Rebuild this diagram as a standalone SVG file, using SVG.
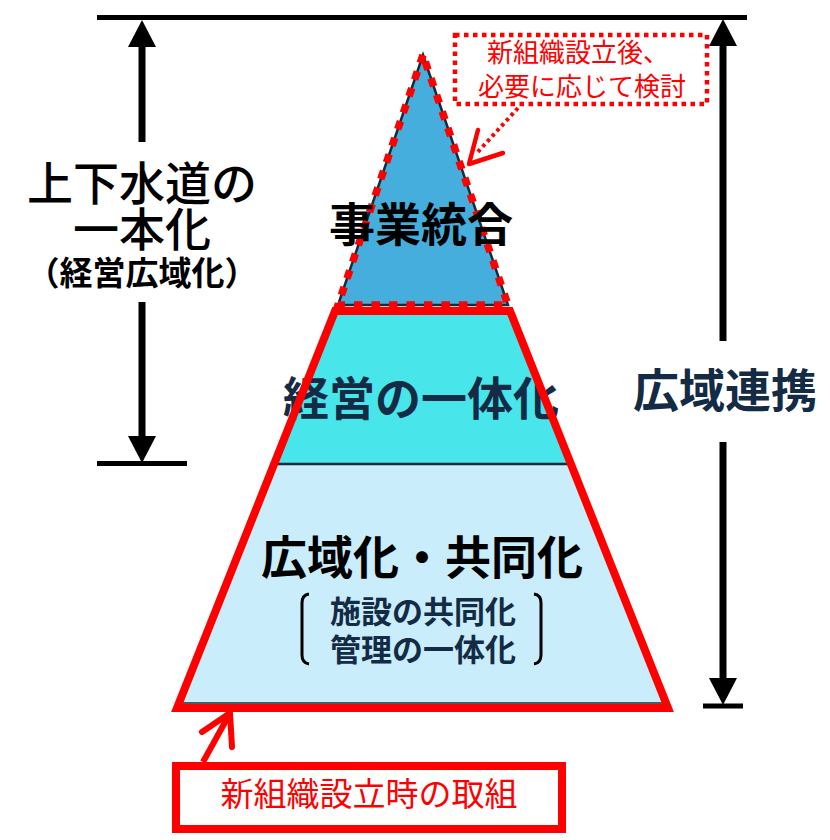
<svg xmlns="http://www.w3.org/2000/svg" width="830" height="840" viewBox="0 0 830 840">
<style>
text{font-family:"Noto Sans CJK JP","Noto Sans",sans-serif;text-anchor:middle}
.big{font-size:46px;font-weight:bold}
.navy{fill:#132b44}
.blk{fill:#000}
.red{fill:#ff0000}
.dim{stroke:#000;stroke-width:7;fill:none}
.bar{stroke:#000;stroke-width:5;fill:none}
.rl{stroke:#ff0000;fill:none}
</style>
<rect width="830" height="840" fill="#fff"/>

<g id="pyramid">
<g id="node-jigyo">
<polygon points="423,55 338,305 508,305" fill="#46aedd" stroke="#1b2a38" stroke-width="2.5"/>
<polygon points="423,55 338,305 508,305" class="rl" stroke-width="7.5" stroke-dasharray="8.5 9" stroke-linejoin="miter"/>
<text class="big blk" x="421" y="241">事業統合</text>
</g>
<g id="node-keiei">
<polygon points="335,311 510,311 571,464 274,464" fill="#48e5ea"/>
<text class="big navy" x="421" y="415">経営の一体化</text>
</g>
<g id="node-kouiki">
<polygon points="274,464 571,464 668,708 177,708" fill="#c9edfb"/>
<line x1="183" y1="703" x2="662" y2="703" stroke="#1b2a38" stroke-width="1.5"/>
<line x1="274" y1="464" x2="571" y2="464" stroke="#1b2a38" stroke-width="2.5"/>
<text class="big blk" x="422" y="574">広域化・共同化</text>
<text class="navy" x="423" y="623" font-size="31" font-weight="bold">施設の共同化</text>
<text class="navy" x="423" y="661" font-size="31" font-weight="bold">管理の一体化</text>
<path d="M309,594 Q302,595 302,603 L302,655 Q302,663 309,664" fill="none" stroke="#000" stroke-width="3"/>
<path d="M534,594 Q541,595 541,603 L541,655 Q541,663 534,664" fill="none" stroke="#000" stroke-width="3"/>
</g>
<polygon points="335,311 510,311 668,708 177,708" class="rl" stroke-width="8" stroke-linejoin="miter" stroke-miterlimit="10"/>
</g>

<g id="node-callout">
<rect x="455" y="35" width="252" height="69" class="rl" stroke-width="4.5" stroke-dasharray="4.5 4.5"/>
<text class="red" x="578" y="62" font-size="26">新組織設立後、</text>
<text class="red" x="582" y="96" font-size="26">必要に応じて検討</text>
</g>

<g id="node-shinsoshiki">
<rect x="176" y="766" width="386" height="63" class="rl" stroke-width="8"/>
<text class="red" x="369" y="806" font-size="33">新組織設立時の取組</text>
</g>

<g id="node-left-label">
<text class="blk" x="142" y="200" font-size="46" font-weight="500">上下水道の</text>
<text class="blk" x="142" y="246" font-size="46" font-weight="500">一本化</text>
<text class="blk" x="142" y="285" font-size="33" font-weight="bold">（経営広域化）</text>
</g>

<g id="node-right-label">
<text class="big navy" x="725" y="407">広域連携</text>
</g>

<g id="connectors">
<line x1="97" y1="17.5" x2="747" y2="17.5" class="bar"/>
<line x1="97" y1="463.5" x2="187" y2="463.5" class="bar"/>
<line x1="703" y1="706" x2="743" y2="706" class="bar"/>
<line x1="142" y1="142" x2="142" y2="47" class="dim"/>
<path d="M128,47 L142,20 L156,47 Z" fill="#000"/>
<line x1="142" y1="302" x2="142" y2="436" class="dim"/>
<path d="M128,436 L142,463 L156,436 Z" fill="#000"/>
<line x1="723" y1="341" x2="723" y2="46" class="dim"/>
<path d="M709,46 L723,19 L737,46 Z" fill="#000"/>
<line x1="723" y1="442" x2="723" y2="678" class="dim"/>
<path d="M709,678 L723,705 L737,678 Z" fill="#000"/>
<line x1="518" y1="108" x2="476" y2="154" class="rl" stroke-width="4" stroke-dasharray="3.5 3.5"/>
<polyline points="478,130 469,164 503,153" class="rl" stroke-width="4.5" stroke-linecap="round" stroke-linejoin="round"/>
<line x1="203" y1="762" x2="229" y2="715" class="rl" stroke-width="6"/>
<polyline points="202,732 230,713 232,747" class="rl" stroke-width="6" stroke-linecap="round" stroke-linejoin="round"/>
</g>
</svg>
